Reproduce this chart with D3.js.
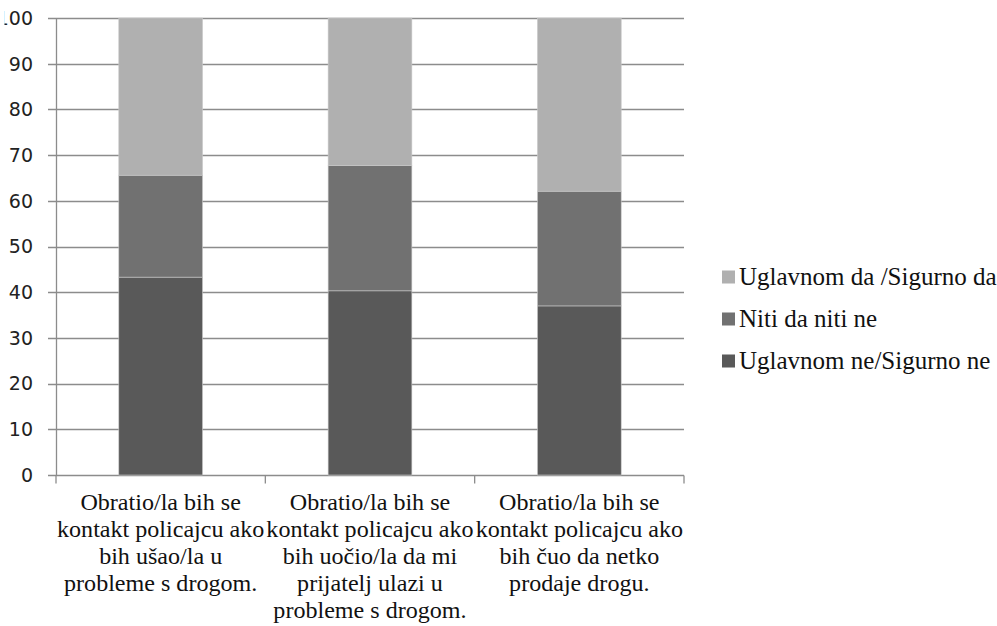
<!DOCTYPE html>
<head>
  <meta charset="utf-8">
  <script src="https://d3js.org/d3.v7.min.js"></script>
  <style>
    body { margin: 0; background: #fff; }
    svg { display: block; }
    .serif { font-family: "Liberation Serif", "Times New Roman", Tinos, "DejaVu Serif", serif; }
  </style>
</head>
<body>
<script>
// chart data
var categories = [
    ["Obratio/la bih se", "kontakt policajcu ako", "bih ušao/la u", "probleme s drogom."],
    ["Obratio/la bih se", "kontakt policajcu ako", "bih uočio/la  da mi", "prijatelj ulazi u", "probleme s drogom."],
    ["Obratio/la bih se", "kontakt policajcu ako", "bih čuo da netko", "prodaje drogu."]
];
var seriesNames = ["Uglavnom ne/Sigurno ne", "Niti da niti ne", "Uglavnom da /Sigurno da"];
var seriesNe = [43.3, 40.3, 37.0];
var seriesNiti = [22.3, 27.4, 25.1];
var seriesDa = [34.4, 32.3, 37.9];
var yTicks = [0, 10, 20, 30, 40, 50, 60, 70, 80, 90, 100];

var colors = ["#595959", "#717171", "#b0b0b0"];

var width = 997, height = 626;
var margin = {left: 56, right: 313, top: 18, bottom: 151};

var svg = d3.select("body").append("svg")
    .attr("width", width)
    .attr("height", height);

var x = d3.scaleBand()
    .domain(d3.range(categories.length))
    .range([margin.left, width - margin.right])
    .paddingInner(0.6)
    .paddingOuter(0.3);

var y = d3.scaleLinear()
    .domain([0, 100])
    .range([height - margin.bottom, margin.top]);

// the "1" of 100 runs off the left edge in the original
svg.append("clipPath").attr("id", "lblclip")
    .append("rect").attr("x", 4.5).attr("y", 0).attr("width", 60).attr("height", height);

// gridlines + y ticks
svg.append("g")
    .selectAll("line")
    .data(yTicks)
    .join("line")
    .attr("x1", margin.left - 8)
    .attr("x2", width - margin.right)
    .attr("y1", function(d) { return Math.round(y(d)) + 0.5; })
    .attr("y2", function(d) { return Math.round(y(d)) + 0.5; })
    .attr("stroke", "#8c8c8c")
    .attr("stroke-width", 1.3);

svg.append("g")
    .attr("clip-path", "url(#lblclip)")
    .selectAll("text")
    .data(yTicks)
    .join("text")
    .attr("x", 33)
    .attr("y", function(d) { return y(d); })
    .attr("dy", "0.36em")
    .attr("text-anchor", "end")
    .style("font-family", "'DejaVu Sans', sans-serif")
    .style("font-size", "19px")
    .attr("fill", "#222")
    .text(function(d) { return d; });

// stacked bars
var table = categories.map(function(c, i) {
    return {i: i, ne: seriesNe[i], niti: seriesNiti[i], da: seriesDa[i]};
});
var stack = d3.stack().keys(["ne", "niti", "da"]);
var layers = stack(table);

svg.append("g")
    .selectAll("g")
    .data(layers)
    .join("g")
    .attr("fill", function(d, i) { return colors[i]; })
    .selectAll("rect")
    .data(function(d) { return d; })
    .join("rect")
    .attr("x", function(d) { return x(d.data.i); })
    .attr("width", x.bandwidth())
    .attr("y", function(d) { return y(d[1]); })
    .attr("height", function(d) { return y(d[0]) - y(d[1]); })
    .attr("stroke", "#c8c8c8")
    .attr("stroke-width", 0.6);

// axis lines
var x0 = margin.left + 0.5, yb = Math.round(y(0)) + 0.5;
svg.append("line")
    .attr("x1", x0).attr("x2", x0)
    .attr("y1", y(100)).attr("y2", yb)
    .attr("stroke", "#8c8c8c").attr("stroke-width", 1.3);

var step = (width - margin.right - margin.left) / categories.length;
svg.append("g")
    .selectAll("line")
    .data(d3.range(categories.length + 1))
    .join("line")
    .attr("x1", function(d) { return margin.left + d * step; })
    .attr("x2", function(d) { return margin.left + d * step; })
    .attr("y1", yb)
    .attr("y2", yb + 8)
    .attr("stroke", "#8c8c8c").attr("stroke-width", 1.3);

// category labels
var catLabels = svg.append("g")
    .selectAll("text")
    .data(categories)
    .join("text")
    .attr("class", "serif")
    .attr("x", function(d, i) { return x(i) + x.bandwidth() / 2; })
    .attr("y", 510)
    .attr("text-anchor", "middle")
    .style("font-size", "23px")
    .attr("fill", "#111")
    .each(function(d) {
        var cx = d3.select(this).attr("x");
        d3.select(this).selectAll("tspan")
            .data(d)
            .join("tspan")
            .attr("x", cx)
            .attr("dy", function(t, j) { return j ? 27 : 0; })
            .text(function(t) { return t; });
    });

// the long line spans about a whole category in the original, size to that
var probe = catLabels.filter(function(d, i) { return i === 0; }).selectAll("tspan")
    .filter(function(t, j) { return j === 1; }).node();
var fs = 23 * (step - 2) / probe.getComputedTextLength();
fs = Math.max(19, Math.min(25, fs));
catLabels.style("font-size", fs + "px");

// legend
var legendItems = [2, 1, 0];
var legend = svg.append("g")
    .selectAll("g")
    .data(legendItems)
    .join("g")
    .attr("transform", function(d, i) { return "translate(722," + (277 + i * 42) + ")"; });

legend.append("rect")
    .attr("x", 0).attr("y", -6.5)
    .attr("width", 13).attr("height", 13)
    .attr("fill", function(d) { return colors[d]; });

legend.append("text")
    .attr("class", "serif")
    .attr("x", 17)
    .attr("dy", "0.33em")
    .style("font-size", "25px")
    .attr("fill", "#111")
    .text(function(d) { return seriesNames[d]; });
</script>
</body>
</html>
